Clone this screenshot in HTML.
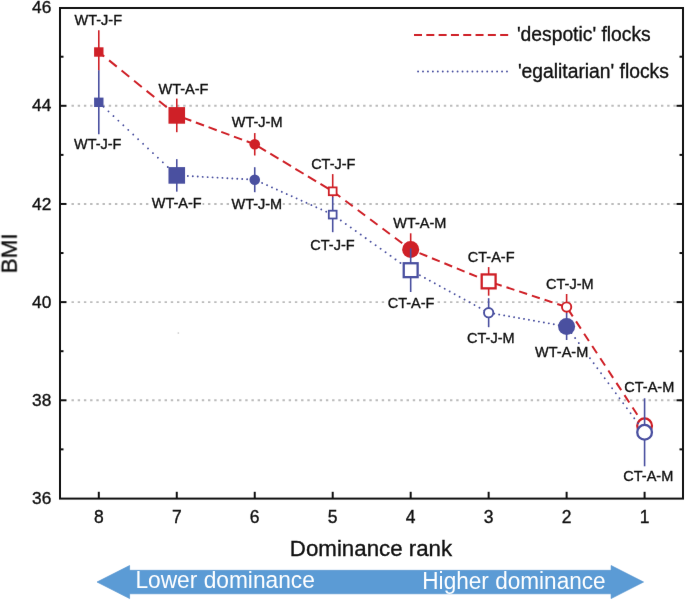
<!DOCTYPE html><html><head><meta charset="utf-8"><style>html,body{margin:0;padding:0;background:#fff;width:685px;height:600px;overflow:hidden}svg{display:block;will-change:transform}text{font-family:"Liberation Sans",sans-serif}</style></head><body>
<svg width="685" height="600" viewBox="0 0 685 600">
<defs><filter id="bl" x="0" y="0" width="685" height="600" filterUnits="userSpaceOnUse" color-interpolation-filters="sRGB"><feConvolveMatrix order="3" kernelMatrix="0.00163 0.03713 0.00163 0.03713 0.84497 0.03713 0.00163 0.03713 0.00163" edgeMode="duplicate"/></filter></defs>
<g filter="url(#bl)"><rect width="685" height="600" fill="#fff"/>
<line x1="71.5" y1="105.80" x2="682" y2="105.80" stroke="#bcbcbc" stroke-width="1.9" stroke-dasharray="2.4 3.805"/>
<line x1="71.5" y1="203.96" x2="682" y2="203.96" stroke="#bcbcbc" stroke-width="1.9" stroke-dasharray="2.4 3.805"/>
<line x1="71.5" y1="302.12" x2="682" y2="302.12" stroke="#bcbcbc" stroke-width="1.9" stroke-dasharray="2.4 3.805"/>
<line x1="71.5" y1="400.28" x2="682" y2="400.28" stroke="#bcbcbc" stroke-width="1.9" stroke-dasharray="2.4 3.805"/>
<line x1="98.80" y1="52.00" x2="176.77" y2="115.40" stroke="#cf2027" stroke-width="2" stroke-dasharray="9.90 6.21" stroke-dashoffset="2.86"/>
<line x1="176.77" y1="115.40" x2="254.74" y2="144.30" stroke="#cf2027" stroke-width="2" stroke-dasharray="8.70 4.84" stroke-dashoffset="6.73"/>
<line x1="254.74" y1="144.30" x2="332.71" y2="191.30" stroke="#cf2027" stroke-width="2" stroke-dasharray="9.60 5.05" stroke-dashoffset="11.18"/>
<line x1="332.71" y1="191.30" x2="410.68" y2="249.50" stroke="#cf2027" stroke-width="2" stroke-dasharray="9.20 6.25" stroke-dashoffset="15.11"/>
<line x1="410.68" y1="249.50" x2="488.65" y2="281.40" stroke="#cf2027" stroke-width="2" stroke-dasharray="8.40 5.03" stroke-dashoffset="3.88"/>
<line x1="488.65" y1="281.40" x2="566.62" y2="307.00" stroke="#cf2027" stroke-width="2" stroke-dasharray="8.35 5.02" stroke-dashoffset="8.00"/>
<line x1="566.62" y1="307.00" x2="644.59" y2="425.80" stroke="#cf2027" stroke-width="2" stroke-dasharray="8.70 6.01" stroke-dashoffset="12.22"/>
<line x1="98.80" y1="30.20" x2="98.80" y2="70.60" stroke="#cf2027" stroke-width="1.6"/>
<line x1="176.77" y1="98.60" x2="176.77" y2="132.20" stroke="#cf2027" stroke-width="1.6"/>
<line x1="254.74" y1="133.10" x2="254.74" y2="155.50" stroke="#cf2027" stroke-width="1.6"/>
<line x1="332.71" y1="174.10" x2="332.71" y2="197.30" stroke="#cf2027" stroke-width="1.6"/>
<line x1="410.68" y1="233.30" x2="410.68" y2="248.70" stroke="#cf2027" stroke-width="1.6"/>
<line x1="488.65" y1="267.10" x2="488.65" y2="295.70" stroke="#cf2027" stroke-width="1.6"/>
<line x1="566.62" y1="294.00" x2="566.62" y2="313.30" stroke="#cf2027" stroke-width="1.6"/>
<rect x="94.10" y="47.30" width="9.4" height="9.4" fill="#cf2027"/>
<rect x="168.47" y="107.10" width="16.6" height="16.6" fill="#cf2027"/>
<circle cx="254.74" cy="144.30" r="5.3" fill="#cf2027"/>
<rect x="328.81" y="187.40" width="7.80" height="7.80" fill="#fff" stroke="#cf2027" stroke-width="1.8"/>
<circle cx="410.68" cy="249.50" r="8.5" fill="#cf2027"/>
<rect x="481.70" y="274.45" width="13.90" height="13.90" fill="#fff" stroke="#cf2027" stroke-width="2.3"/>
<circle cx="566.62" cy="307.00" r="4.65" fill="#fff" stroke="#cf2027" stroke-width="1.9"/>
<circle cx="644.59" cy="425.80" r="7.35" fill="#fff" stroke="#cf2027" stroke-width="2.3"/>
<line x1="98.80" y1="102.30" x2="176.77" y2="175.40" stroke="#4a50a0" stroke-width="1.9" stroke-linecap="round" stroke-dasharray="0.01 6.762" stroke-dashoffset="0.247"/>
<line x1="176.77" y1="175.40" x2="254.74" y2="179.70" stroke="#4a50a0" stroke-width="1.9" stroke-linecap="round" stroke-dasharray="0.01 4.938" stroke-dashoffset="3.746"/>
<line x1="254.74" y1="179.70" x2="332.71" y2="214.60" stroke="#4a50a0" stroke-width="1.9" stroke-linecap="round" stroke-dasharray="0.01 5.391" stroke-dashoffset="2.750"/>
<line x1="332.71" y1="214.60" x2="410.68" y2="270.20" stroke="#4a50a0" stroke-width="1.9" stroke-linecap="round" stroke-dasharray="0.01 6.094" stroke-dashoffset="2.223"/>
<line x1="410.68" y1="270.20" x2="488.65" y2="312.70" stroke="#4a50a0" stroke-width="1.9" stroke-linecap="round" stroke-dasharray="0.01 5.639" stroke-dashoffset="0.797"/>
<line x1="488.65" y1="312.70" x2="566.62" y2="326.50" stroke="#4a50a0" stroke-width="1.9" stroke-linecap="round" stroke-dasharray="0.01 5.027" stroke-dashoffset="4.397"/>
<line x1="566.62" y1="326.50" x2="644.59" y2="432.30" stroke="#4a50a0" stroke-width="1.9" stroke-linecap="round" stroke-dasharray="0.01 6.218" stroke-dashoffset="4.290"/>
<line x1="98.80" y1="70.30" x2="98.80" y2="134.30" stroke="#4a50a0" stroke-width="1.6"/>
<line x1="176.77" y1="159.15" x2="176.77" y2="191.65" stroke="#4a50a0" stroke-width="1.6"/>
<line x1="254.74" y1="167.20" x2="254.74" y2="192.20" stroke="#4a50a0" stroke-width="1.6"/>
<line x1="332.71" y1="197.00" x2="332.71" y2="232.20" stroke="#4a50a0" stroke-width="1.6"/>
<line x1="410.68" y1="248.40" x2="410.68" y2="292.00" stroke="#4a50a0" stroke-width="1.6"/>
<line x1="488.65" y1="298.20" x2="488.65" y2="327.20" stroke="#4a50a0" stroke-width="1.6"/>
<line x1="566.62" y1="313.00" x2="566.62" y2="340.00" stroke="#4a50a0" stroke-width="1.6"/>
<line x1="644.59" y1="398.30" x2="644.59" y2="466.30" stroke="#4a50a0" stroke-width="1.6"/>
<rect x="94.10" y="97.60" width="9.4" height="9.4" fill="#4a50a0"/>
<rect x="168.47" y="167.10" width="16.6" height="16.6" fill="#4a50a0"/>
<circle cx="254.74" cy="179.70" r="5.3" fill="#4a50a0"/>
<rect x="328.81" y="210.70" width="7.80" height="7.80" fill="#fff" stroke="#4a50a0" stroke-width="1.8"/>
<rect x="403.73" y="263.25" width="13.90" height="13.90" fill="#fff" stroke="#4a50a0" stroke-width="2.3"/>
<circle cx="488.65" cy="312.70" r="4.65" fill="#fff" stroke="#4a50a0" stroke-width="1.9"/>
<circle cx="566.62" cy="326.50" r="8.5" fill="#4a50a0"/>
<circle cx="644.59" cy="432.30" r="7.35" fill="#fff" stroke="#4a50a0" stroke-width="2.3"/>
<rect x="177.6" y="332.3" width="1.5" height="1.5" fill="#cfcfcf"/>
<g opacity="0.999">
<rect x="72.95" y="13.55" width="50.20" height="13.40" fill="#fff"/><text transform="translate(74.55,25.45) scale(1,1.04)" font-size="14.5" fill="#111" stroke="#111" stroke-width="0.35">WT-J-F</text>
<rect x="72.40" y="136.85" width="50.20" height="13.40" fill="#fff"/><text transform="translate(74.00,148.75) scale(1,1.04)" font-size="14.5" fill="#111" stroke="#111" stroke-width="0.35">WT-J-F</text>
<rect x="156.88" y="82.35" width="52.45" height="13.40" fill="#fff"/><text transform="translate(158.47,94.25) scale(1,1.04)" font-size="14.5" fill="#111" stroke="#111" stroke-width="0.35">WT-A-F</text>
<rect x="150.12" y="196.15" width="52.45" height="13.40" fill="#fff"/><text transform="translate(151.72,208.05) scale(1,1.04)" font-size="14.5" fill="#111" stroke="#111" stroke-width="0.35">WT-A-F</text>
<rect x="230.20" y="114.95" width="52.70" height="13.40" fill="#fff"/><text transform="translate(231.80,126.85) scale(1,1.04)" font-size="14.5" fill="#111" stroke="#111" stroke-width="0.35">WT-J-M</text>
<rect x="229.85" y="197.50" width="52.70" height="13.40" fill="#fff"/><text transform="translate(231.45,209.40) scale(1,1.04)" font-size="14.5" fill="#111" stroke="#111" stroke-width="0.35">WT-J-M</text>
<rect x="310.30" y="156.85" width="46.20" height="13.40" fill="#fff"/><text transform="translate(311.15,168.75) scale(1,1.04)" font-size="14.5" fill="#111" stroke="#111" stroke-width="0.35">CT-J-F</text>
<rect x="309.45" y="238.35" width="46.20" height="13.40" fill="#fff"/><text transform="translate(310.30,250.25) scale(1,1.04)" font-size="14.5" fill="#111" stroke="#111" stroke-width="0.35">CT-J-F</text>
<rect x="391.65" y="216.12" width="55.20" height="13.40" fill="#fff"/><text transform="translate(393.25,228.02) scale(1,1.04)" font-size="14.5" fill="#111" stroke="#111" stroke-width="0.35">WT-A-M</text>
<rect x="386.85" y="295.95" width="48.70" height="13.40" fill="#fff"/><text transform="translate(387.70,307.85) scale(1,1.04)" font-size="14.5" fill="#111" stroke="#111" stroke-width="0.35">CT-A-F</text>
<rect x="466.95" y="249.65" width="48.70" height="13.40" fill="#fff"/><text transform="translate(467.80,261.55) scale(1,1.04)" font-size="14.5" fill="#111" stroke="#111" stroke-width="0.35">CT-A-F</text>
<rect x="466.20" y="330.65" width="48.70" height="13.40" fill="#fff"/><text transform="translate(467.05,342.55) scale(1,1.04)" font-size="14.5" fill="#111" stroke="#111" stroke-width="0.35">CT-J-M</text>
<rect x="545.25" y="276.75" width="48.70" height="13.40" fill="#fff"/><text transform="translate(546.10,288.65) scale(1,1.04)" font-size="14.5" fill="#111" stroke="#111" stroke-width="0.35">CT-J-M</text>
<rect x="533.50" y="345.00" width="55.20" height="13.40" fill="#fff"/><text transform="translate(535.10,356.90) scale(1,1.04)" font-size="14.5" fill="#111" stroke="#111" stroke-width="0.35">WT-A-M</text>
<rect x="623.50" y="379.65" width="51.20" height="13.40" fill="#fff"/><text transform="translate(624.35,391.55) scale(1,1.04)" font-size="14.5" fill="#111" stroke="#111" stroke-width="0.35">CT-A-M</text>
<rect x="622.45" y="468.65" width="51.20" height="13.40" fill="#fff"/><text transform="translate(623.30,480.55) scale(1,1.04)" font-size="14.5" fill="#111" stroke="#111" stroke-width="0.35">CT-A-M</text>
</g>
<rect x="60" y="8" width="623" height="490.6" fill="none" stroke="#111" stroke-width="2"/>
<line x1="60" y1="449.36" x2="63.5" y2="449.36" stroke="#111" stroke-width="2"/>
<line x1="679.5" y1="449.36" x2="683" y2="449.36" stroke="#111" stroke-width="2"/>
<line x1="60" y1="400.28" x2="66.5" y2="400.28" stroke="#111" stroke-width="2"/>
<line x1="676.5" y1="400.28" x2="683" y2="400.28" stroke="#111" stroke-width="2"/>
<line x1="60" y1="351.20" x2="63.5" y2="351.20" stroke="#111" stroke-width="2"/>
<line x1="679.5" y1="351.20" x2="683" y2="351.20" stroke="#111" stroke-width="2"/>
<line x1="60" y1="302.12" x2="66.5" y2="302.12" stroke="#111" stroke-width="2"/>
<line x1="676.5" y1="302.12" x2="683" y2="302.12" stroke="#111" stroke-width="2"/>
<line x1="60" y1="253.04" x2="63.5" y2="253.04" stroke="#111" stroke-width="2"/>
<line x1="679.5" y1="253.04" x2="683" y2="253.04" stroke="#111" stroke-width="2"/>
<line x1="60" y1="203.96" x2="66.5" y2="203.96" stroke="#111" stroke-width="2"/>
<line x1="676.5" y1="203.96" x2="683" y2="203.96" stroke="#111" stroke-width="2"/>
<line x1="60" y1="154.88" x2="63.5" y2="154.88" stroke="#111" stroke-width="2"/>
<line x1="679.5" y1="154.88" x2="683" y2="154.88" stroke="#111" stroke-width="2"/>
<line x1="60" y1="105.80" x2="66.5" y2="105.80" stroke="#111" stroke-width="2"/>
<line x1="676.5" y1="105.80" x2="683" y2="105.80" stroke="#111" stroke-width="2"/>
<line x1="60" y1="56.72" x2="63.5" y2="56.72" stroke="#111" stroke-width="2"/>
<line x1="679.5" y1="56.72" x2="683" y2="56.72" stroke="#111" stroke-width="2"/>
<g opacity="0.999">
<text transform="translate(51.30,13.24)" font-size="17.3" fill="#111" text-anchor="end" stroke="#111" stroke-width="0.35">46</text>
<text transform="translate(51.30,111.40)" font-size="17.3" fill="#111" text-anchor="end" stroke="#111" stroke-width="0.35">44</text>
<text transform="translate(51.30,209.56)" font-size="17.3" fill="#111" text-anchor="end" stroke="#111" stroke-width="0.35">42</text>
<text transform="translate(51.30,307.72)" font-size="17.3" fill="#111" text-anchor="end" stroke="#111" stroke-width="0.35">40</text>
<text transform="translate(51.30,405.88)" font-size="17.3" fill="#111" text-anchor="end" stroke="#111" stroke-width="0.35">38</text>
<text transform="translate(51.30,504.04)" font-size="17.3" fill="#111" text-anchor="end" stroke="#111" stroke-width="0.35">36</text>
</g>
<line x1="644.59" y1="491.8" x2="644.59" y2="498.6" stroke="#111" stroke-width="2"/>
<line x1="566.62" y1="491.8" x2="566.62" y2="498.6" stroke="#111" stroke-width="2"/>
<line x1="488.65" y1="491.8" x2="488.65" y2="498.6" stroke="#111" stroke-width="2"/>
<line x1="410.68" y1="491.8" x2="410.68" y2="498.6" stroke="#111" stroke-width="2"/>
<line x1="332.71" y1="491.8" x2="332.71" y2="498.6" stroke="#111" stroke-width="2"/>
<line x1="254.74" y1="491.8" x2="254.74" y2="498.6" stroke="#111" stroke-width="2"/>
<line x1="176.77" y1="491.8" x2="176.77" y2="498.6" stroke="#111" stroke-width="2"/>
<line x1="98.80" y1="491.8" x2="98.80" y2="498.6" stroke="#111" stroke-width="2"/>
<g opacity="0.999">
<text transform="translate(644.59,522.90) scale(1,1.04)" font-size="17.5" fill="#111" text-anchor="middle" stroke="#111" stroke-width="0.35">1</text>
<text transform="translate(566.62,522.90) scale(1,1.04)" font-size="17.5" fill="#111" text-anchor="middle" stroke="#111" stroke-width="0.35">2</text>
<text transform="translate(488.65,522.90) scale(1,1.04)" font-size="17.5" fill="#111" text-anchor="middle" stroke="#111" stroke-width="0.35">3</text>
<text transform="translate(410.68,522.90) scale(1,1.04)" font-size="17.5" fill="#111" text-anchor="middle" stroke="#111" stroke-width="0.35">4</text>
<text transform="translate(332.71,522.90) scale(1,1.04)" font-size="17.5" fill="#111" text-anchor="middle" stroke="#111" stroke-width="0.35">5</text>
<text transform="translate(254.74,522.90) scale(1,1.04)" font-size="17.5" fill="#111" text-anchor="middle" stroke="#111" stroke-width="0.35">6</text>
<text transform="translate(176.77,522.90) scale(1,1.04)" font-size="17.5" fill="#111" text-anchor="middle" stroke="#111" stroke-width="0.35">7</text>
<text transform="translate(98.80,522.90) scale(1,1.04)" font-size="17.5" fill="#111" text-anchor="middle" stroke="#111" stroke-width="0.35">8</text>
<text transform="translate(371.00,555.60) scale(1,1.03)" font-size="22.3" fill="#111" text-anchor="middle" stroke="#111" stroke-width="0.35">Dominance rank</text>
<text transform="translate(17.10,253.30) rotate(-90) scale(1,1.02)" font-size="22.4" fill="#111" text-anchor="middle" stroke="#111" stroke-width="0.35">BMI</text>
<text transform="translate(516.90,40.60)" font-size="19.3" fill="#111" stroke="#111" stroke-width="0.35">'despotic' flocks</text>
<text transform="translate(517.90,77.60)" font-size="19.3" fill="#111" stroke="#111" stroke-width="0.35">'egalitarian' flocks</text>
</g>
<line x1="414.0" y1="34.9" x2="508.3" y2="34.9" stroke="#cf2027" stroke-width="2" stroke-dasharray="8.0 4.31"/>
<line x1="418.06" y1="71.5" x2="507.2" y2="71.5" stroke="#4a50a0" stroke-width="1.9" stroke-linecap="round" stroke-dasharray="0.01 4.93"/>
<polygon points="97,582 129.6,565.5 129.6,570.3 611.1,570.3 611.1,565.5 643.6,582 611.1,598.6 611.1,593.8 129.6,593.8 129.6,598.6" fill="#5b9bd5" stroke="#5090cd" stroke-width="0.6" stroke-linejoin="miter"/>
<g opacity="0.999">
<text transform="translate(135.40,588.30) scale(1,1.03)" font-size="22.75" fill="#fff">Lower dominance</text>
<text transform="translate(422.30,589.10) scale(1,1.03)" font-size="22.6" fill="#fff">Higher dominance</text>
</g>
</g>
</svg></body></html>
